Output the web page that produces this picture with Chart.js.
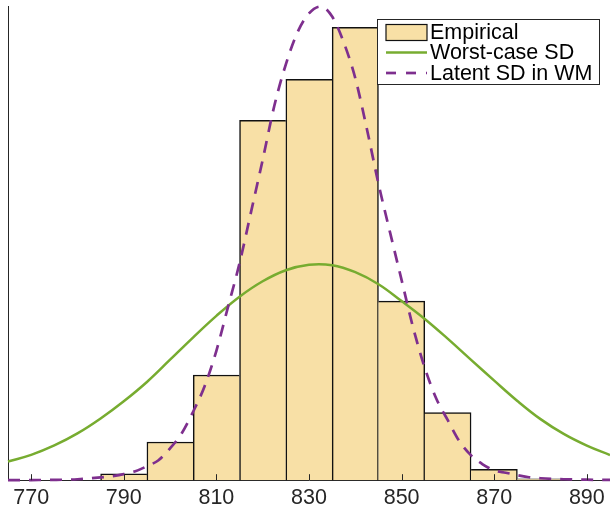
<!DOCTYPE html>
<html><head><meta charset="utf-8">
<script src="https://cdn.jsdelivr.net/npm/chart.js@4/dist/chart.umd.min.js"></script>
<style>html,body{margin:0;padding:0;background:#fff;}#wrap{width:610px;height:515px;position:relative;}</style>
</head><body><div id="wrap"><canvas id="c" width="610" height="515"></canvas></div>
<script>
// ---- data ----
const binCenters = [790, 800, 810, 820, 830, 840, 850, 860, 870, 880];
const binValues  = [0.39, 2.35, 6.48, 22.16, 24.68, 27.88, 11.03, 4.17, 0.67, 0.08];

const worstX = [765,770,775,780,785,790,795,800,805,810,815,820,825,830,835,840,845,850,855,860,865,870,875,880,885,890,895];
const worstY = [1.15,1.56,2.14,2.88,3.80,4.86,6.05,7.42,8.80,10.12,11.30,12.25,12.93,13.27,13.24,12.81,12.07,11.03,9.93,8.70,7.41,6.13,4.88,3.76,2.85,2.13,1.55];

const latentX = [765,770,775,780,785,787.5,790,792.5,795,797.5,800,802.5,805,807.5,810,812.5,815,817.5,820,822.5,825,827.5,830,832.5,835,837.5,840,842.5,845,847.5,850,852.5,855,857.5,860,862.5,865,867.5,870,872.5,875,877.5,880,885,890,895];
const latentY = [0.00,0.01,0.02,0.06,0.17,0.25,0.37,0.55,0.86,1.23,1.96,2.88,4.23,5.82,7.97,10.66,13.36,16.54,19.73,23.04,25.61,27.57,28.74,29.17,28.55,26.96,24.75,21.63,18.26,15.26,12.32,9.38,6.92,5.02,3.68,2.39,1.53,0.98,0.61,0.46,0.31,0.18,0.12,0.06,0.03,0.02];

const xTicks = [770, 790, 810, 830, 850, 870, 890];
const seriesNames = ['Empirical', 'Worst-case SD', 'Latent SD in WM'];

// ---- styles ----
const BAR_FILL = '#F8E0A6';
const BAR_EDGE = '#111111';
const GREEN = '#77AC30';
const PURPLE = '#7E2F8E';
const AXIS = '#262626';
const FONT = '"Liberation Sans", Arial, Helvetica, sans-serif';
const FSIZE = 21.5;
const BW = 1.5;
const DASH = [12, 9];

function pts(xs, ys) { return xs.map((x, i) => ({ x: x, y: ys[i] })); }

const legendPlugin = {
  id: 'boxLegend',
  afterDraw(chart) {
    const ctx = chart.ctx;
    const bx = 377.5, by = 19.5, bw = 222, bh = 65;
    ctx.save();
    ctx.fillStyle = '#fff';
    ctx.fillRect(bx, by, bw, bh);
    ctx.strokeStyle = AXIS; ctx.lineWidth = 1;
    ctx.strokeRect(bx, by, bw, bh);
    const sx0 = 386, sx1 = 427;
    const rows = [32.5, 52.5, 73];
    ctx.fillStyle = BAR_FILL;
    ctx.fillRect(sx0, 24.5, sx1 - sx0, 16);
    ctx.strokeStyle = BAR_EDGE; ctx.lineWidth = 1.2;
    ctx.strokeRect(sx0, 24.5, sx1 - sx0, 16);
    ctx.beginPath(); ctx.strokeStyle = GREEN; ctx.lineWidth = 2.5;
    ctx.moveTo(sx0, rows[1]); ctx.lineTo(sx1, rows[1]); ctx.stroke();
    ctx.beginPath(); ctx.strokeStyle = PURPLE; ctx.lineWidth = 2.7; ctx.setLineDash([10, 10]);
    ctx.moveTo(sx0, rows[2]); ctx.lineTo(sx1, rows[2]); ctx.stroke();
    ctx.setLineDash([]);
    ctx.fillStyle = '#000';
    ctx.font = FSIZE + 'px ' + FONT;
    ctx.textBaseline = 'middle';
    ctx.textAlign = 'left';
    seriesNames.forEach((t, i) => ctx.fillText(t, 430, rows[i] + 1));
    ctx.restore();
  }
};

const tickPlugin = {
  id: 'inTicks',
  afterDatasetsDraw(chart) {
    const xs = chart.scales.x, ctx = chart.ctx;
    const yb = chart.chartArea.bottom;
    ctx.save();
    ctx.strokeStyle = AXIS; ctx.lineWidth = 1;
    xTicks.forEach(v => {
      const px = Math.round(xs.getPixelForValue(v)) + 0.5;
      ctx.beginPath(); ctx.moveTo(px, yb); ctx.lineTo(px, yb - 6); ctx.stroke();
    });
    ctx.restore();
  }
};

new Chart(document.getElementById('c'), {
  type: 'bar',
  data: {
    datasets: [
      {
        type: 'bar', label: seriesNames[0], data: pts(binCenters, binValues),
        backgroundColor: BAR_FILL, borderColor: BAR_EDGE,
        borderWidth: (c) => {
          const i = c.dataIndex, v = binValues[i];
          const prev = i > 0 ? binValues[i - 1] : 0;
          const next = i < binValues.length - 1 ? binValues[i + 1] : 0;
          return { top: BW, left: prev <= v ? BW : 0, right: next < v ? BW : 0, bottom: 0 };
        },
        borderSkipped: false,
        barPercentage: 1, categoryPercentage: 1, order: 3
      },
      {
        type: 'line', label: seriesNames[1], data: pts(worstX, worstY),
        borderColor: GREEN, borderWidth: 2.5, pointRadius: 0, fill: false,
        tension: 0.4, clip: false, order: 2
      },
      {
        type: 'line', label: seriesNames[2], data: pts(latentX, latentY),
        borderColor: PURPLE, borderWidth: 2.7, borderDash: DASH, pointRadius: 0, fill: false,
        cubicInterpolationMode: 'monotone', clip: false, order: 1
      }
    ]
  },
  options: {
    responsive: false, animation: false, devicePixelRatio: 1,
    layout: { padding: { left: 8, top: 6, right: 0, bottom: 0 } },
    plugins: { legend: { display: false }, tooltip: { enabled: false } },
    scales: {
      x: {
        type: 'linear', min: 765, max: 895, offset: false,
        afterBuildTicks: (s) => { s.ticks = xTicks.map(v => ({ value: v })); },
        grid: { display: false, drawTicks: false },
        border: { display: true, color: AXIS, width: 1 },
        ticks: { color: AXIS, font: { family: FONT, size: FSIZE }, padding: 4.5, maxRotation: 0, autoSkip: false,
                 callback: (v) => String(v) }
      },
      y: {
        type: 'linear', min: 0, max: 29.2,
        grid: { display: false, drawTicks: false },
        border: { display: true, color: AXIS, width: 1 },
        ticks: { display: false }
      }
    }
  },
  plugins: [tickPlugin, legendPlugin]
});
</script></body></html>
